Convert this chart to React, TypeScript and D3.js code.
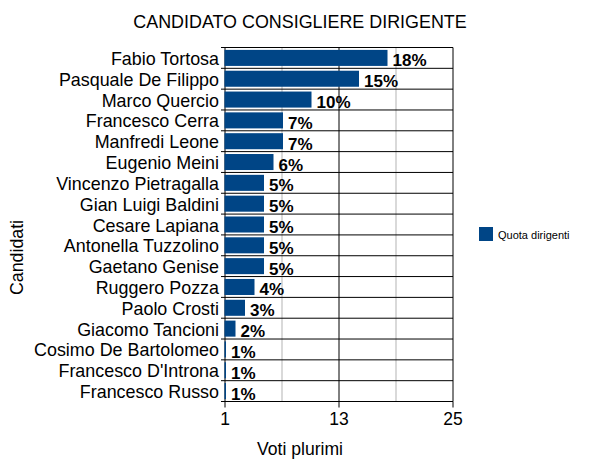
import React from "react";
import * as d3 from "d3";

const categories = [
  "Fabio Tortosa",
  "Pasquale De Filippo",
  "Marco Quercio",
  "Francesco Cerra",
  "Manfredi Leone",
  "Eugenio Meini",
  "Vincenzo Pietragalla",
  "Gian Luigi Baldini",
  "Cesare Lapiana",
  "Antonella Tuzzolino",
  "Gaetano Genise",
  "Ruggero Pozza",
  "Paolo Crosti",
  "Giacomo Tancioni",
  "Cosimo De Bartolomeo",
  "Francesco D'Introna",
  "Francesco Russo",
];
const values = [18, 15, 10, 7, 7, 6, 5, 5, 5, 5, 5, 4, 3, 2, 1, 1, 1];
const valueLabels = ["18%", "15%", "10%", "7%", "7%", "6%", "5%", "5%", "5%", "5%", "5%", "4%", "3%", "2%", "1%", "1%", "1%"];
const xTicks = [1, 13, 25];
const xMinor = [7, 19];
const title = "CANDIDATO CONSIGLIERE DIRIGENTE";
const xTitle = "Voti plurimi";
const yTitle = "Candidati";
const seriesName = "Quota dirigenti";

const W = 600;
const H = 463;
const left = 225;
const right = 453;
const top = 47.5;
const bottom = 401.5;
const color = "#004586";
const font = "'Liberation Sans', Arial, sans-serif";

export default function App() {
  const x = d3.scaleLinear().domain([1, 25]).range([left, right]);
  const y = d3.scaleBand<string>().domain(categories).range([top, bottom]).paddingInner(0.23).paddingOuter(0.115);
  const step = (bottom - top) / categories.length;
  const bounds = d3.range(categories.length + 1).map((i) => top + i * step);

  return (
    <svg width={W} height={H} style={{ position: "absolute", left: 0, top: 0, background: "#fff" }} fontFamily={font}>
      <rect x={0} y={0} width={W} height={H} fill="#fff" />
      <text x={300} y={28.3} textAnchor="middle" fontSize={17.9} fill="#000">{title}</text>
      {/* minor gridlines */}
      {xMinor.map((t) => (
        <line key={"m" + t} x1={x(t)} x2={x(t)} y1={top} y2={bottom} stroke="#b3b3b3" strokeWidth={1} />
      ))}
      {/* major gridlines */}
      {xTicks.slice(1).map((t) => (
        <line key={"g" + t} x1={x(t)} x2={x(t)} y1={top} y2={bottom} stroke="#000" strokeWidth={1} />
      ))}
      {/* category separators */}
      {bounds.map((b, i) => (
        <line key={"s" + i} x1={left - 4} x2={right} y1={b} y2={b} stroke="#000" strokeWidth={1} />
      ))}
      {/* left axis */}
      <line x1={left} x2={left} y1={top} y2={bottom} stroke="#000" strokeWidth={1} />
      {/* bars */}
      {categories.map((c, i) => (
        <rect
          key={"b" + c}
          x={x(1) - 0.5}
          y={y(c)!}
          width={x(values[i]) - x(1) + 1.5}
          height={y.bandwidth()}
          fill={color}
        />
      ))}
      {/* value labels */}
      {categories.map((c, i) => (
        <text
          key={"v" + c}
          x={x(values[i]) + 6}
          y={y(c)! + y.bandwidth() / 2 + 8.5}
          fontSize={17}
          fontWeight="bold"
          fill="#000"
        >
          {valueLabels[i]}
        </text>
      ))}
      {/* category labels */}
      {categories.map((c) => (
        <text key={"c" + c} x={219} y={y(c)! + y.bandwidth() / 2 + 7} textAnchor="end" fontSize={17.9} fill="#000">
          {c}
        </text>
      ))}
      {/* x ticks */}
      {xTicks.map((t) => (
        <g key={"t" + t}>
          <line x1={x(t)} x2={x(t)} y1={bottom} y2={bottom + 6} stroke="#000" strokeWidth={1} />
          <text x={x(t)} y={425} textAnchor="middle" fontSize={17.5} fill="#000">{t}</text>
        </g>
      ))}
      <text x={300} y={455} textAnchor="middle" fontSize={17.6} fill="#000">{xTitle}</text>
      <text transform={`translate(23,257.5) rotate(-90)`} textAnchor="middle" fontSize={17.8} fill="#000">{yTitle}</text>
      {/* legend */}
      <rect x={479} y={227} width={14} height={14} fill={color} />
      <text x={498} y={239} fontSize={11} fill="#000">{seriesName}</text>
    </svg>
  );
}
